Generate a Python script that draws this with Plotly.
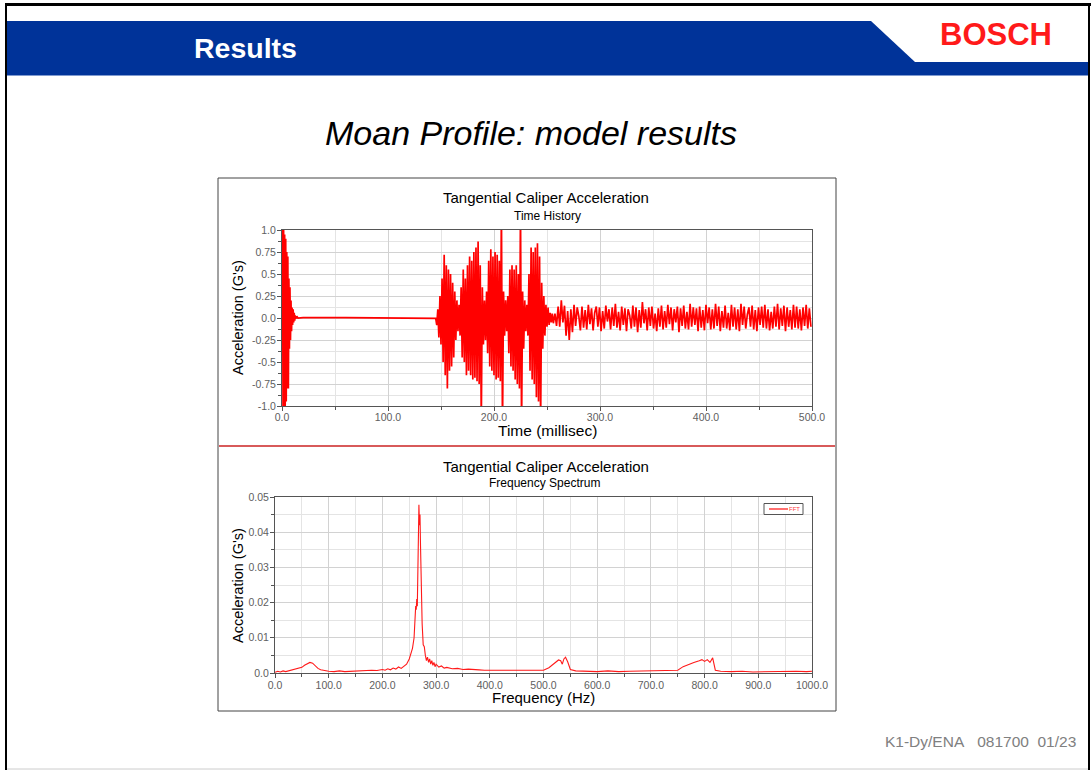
import numpy as np
import plotly.graph_objects as go

W, H = 1091, 770

# ---------------- data ----------------
# Time history, initial impact transient (0 .. 15 ms, 0.5 ms steps)
th_start_ms = 0.0
th_start_step = 0.5
th_start_vals = [0.0, 1.2, -1.2, 1.1, -1.1, 0.95, -1.0, 0.9, -0.95, 0.75, -0.8,
                 0.7, -0.8, 0.45, -0.35, 0.35, -0.25, 0.2, -0.15, 0.12, -0.08,
                 0.1, -0.05, 0.06, -0.03, 0.03, -0.01, 0.02, 0.0, 0.01, 0.0]
# quiet section
th_quiet_ms = [20, 30, 40, 50, 60, 80, 100, 120, 140, 145]
th_quiet_vals = [0.005, 0.005, 0.008, 0.005, 0.004, 0.003, 0.0, -0.003, -0.003, -0.005]
# moan bursts (146 .. 255 ms, 1 ms steps)
th_burst_ms = 146.0
th_burst_step = 1.0
th_burst_vals = [-0.08, 0.1, -0.22, 0.25, -0.3, 0.45, -0.5, 0.72, -0.65,
                 0.6, -0.8, 0.55, -0.6, 0.5, -0.55, 0.4, -0.45, 0.3, -0.25,
                 0.2, -0.15, 0.15, -0.2, 0.35, -0.45, 0.55, -0.5, 0.45, -0.65,
                 0.6, -0.6, 0.7, -0.65, 0.65, -0.7, 0.75, -0.68, 0.8, -0.72,
                 0.87, -0.75, 0.6, -1.2, 0.35, -0.3, 0.2, -0.25, 0.3, -0.4,
                 0.65, -0.55, 0.78, -0.6, 0.7, -0.65, 0.75, -0.7, 0.72, -0.68,
                 0.65, -0.72, 1.3, -1.3, 0.3, -0.2, 0.2, -0.15, 0.25, -0.4,
                 0.55, -0.55, 0.6, -0.6, 0.55, -0.7, 0.6, -0.75, 0.5, -0.8,
                 1.3, -1.3, 0.3, -0.35, 0.2, -0.15, 0.15, -0.2, 0.5, -0.6,
                 0.8, -0.7, 0.75, -0.75, 0.8, -0.9, 0.85, -0.95, 0.7, -1.2,
                 0.4, -0.35, 0.25, -0.2, 0.15, -0.1, 0.12, -0.08, 0.06, -0.05, 0.05]
# steady oscillation (256 .. 499 ms, 1.5 ms steps)
th_steady_ms = 256.0
th_steady_step = 1.5
th_steady_vals = [-0.06, 0.05, -0.09, 0.13, -0.1, 0.2, -0.05, 0.14, -0.2, 0.08,
                  -0.25, 0.1, -0.16, 0.15, -0.09, 0.12, 0.02, -0.14, 0.13, -0.11,
                  0.09, -0.13, 0.15, -0.07, 0.11, -0.14, 0.06, 0.13, -0.1, 0.12,
                  -0.15, 0.08, -0.12, 0.14, -0.04, 0.1, -0.13, 0.12, -0.09, 0.16,
                  -0.11, 0.07, -0.14, 0.13, -0.08, 0.11, -0.15, 0.1, 0.03, -0.12,
                  0.14, -0.1, 0.12, -0.16, 0.09, -0.11, 0.18, -0.06, 0.1, -0.14,
                  0.12, -0.09, 0.13, -0.12, 0.05, -0.15, 0.11, -0.1, 0.14, -0.13,
                  0.08, -0.11, 0.15, -0.07, 0.12, -0.14, 0.1, -0.05, 0.13, -0.16,
                  0.11, -0.09, 0.14, -0.12, 0.07, -0.13, 0.16, -0.1, 0.12, -0.08,
                  0.11, -0.15, 0.13, -0.11, 0.09, -0.14, 0.15, -0.06, 0.12, -0.13,
                  0.1, -0.12, 0.16, -0.09, 0.13, -0.15, 0.08, -0.11, 0.14, -0.12,
                  0.06, -0.14, 0.15, -0.1, 0.12, -0.13, 0.1, -0.15, 0.16, -0.08,
                  0.13, -0.12, 0.04, 0.12, -0.1, 0.14, -0.13, 0.09, -0.15, 0.12,
                  -0.08, 0.13, -0.11, 0.15, -0.12, 0.1, -0.14, 0.07, -0.12, 0.13,
                  -0.1, 0.16, -0.13, 0.11, -0.09, 0.14, -0.15, 0.12, -0.1, 0.09,
                  -0.13, 0.15, -0.11, 0.13, -0.12, 0.1, -0.14, 0.12, -0.09, 0.15,
                  -0.12, 0.11, -0.1]

# Frequency spectrum
fft_hz = [0, 5, 10, 15, 20, 25, 30, 35, 40, 45, 50, 55, 60, 65, 70, 75, 80, 85, 90, 95,
          100, 110, 120, 130, 140, 150, 160, 170, 180, 190, 200, 205, 210, 215, 220, 225,
          230, 235, 240, 245, 250, 253, 256, 259, 261, 262, 263, 264, 265, 266, 267, 268,
          269, 270, 271, 272, 273, 274, 276, 278, 280, 282, 284, 286, 288, 290, 292, 294,
          296, 298, 300, 305, 310, 315, 320, 330, 340, 350, 360, 370, 380, 390, 400, 420,
          440, 460, 480, 500, 510, 520, 528, 532, 535, 538, 541, 545, 550, 560, 580, 600,
          620, 640, 660, 680, 700, 720, 740, 750, 760, 770, 780, 790, 795, 800, 805, 810,
          815, 820, 830, 850, 870, 890, 910, 930, 950, 970, 990, 1000]
fft_g = [0.0002, 0.0005, 0.0003, 0.0006, 0.0004, 0.0006, 0.0008, 0.0009, 0.001, 0.0012,
         0.0016, 0.0022, 0.0027, 0.003, 0.0028, 0.0021, 0.0013, 0.0009, 0.0007, 0.0006,
         0.0005, 0.0004, 0.0006, 0.0004, 0.0005, 0.0006, 0.0005, 0.0007, 0.0008, 0.0007,
         0.001, 0.0008, 0.0012, 0.0009, 0.0014, 0.0011, 0.0017, 0.0013, 0.002, 0.0025,
         0.004, 0.0055, 0.007, 0.01, 0.015, 0.019, 0.018, 0.021, 0.019, 0.028, 0.038, 0.0478,
         0.042, 0.045, 0.036, 0.028, 0.02, 0.014, 0.008, 0.0075, 0.005, 0.0035, 0.0045, 0.003,
         0.004, 0.0025, 0.0035, 0.0022, 0.003, 0.0018, 0.0025, 0.0017, 0.002, 0.0014, 0.0016,
         0.0012, 0.0013, 0.001, 0.0011, 0.0009, 0.0009, 0.0008, 0.0008, 0.0007, 0.0006,
         0.0007, 0.0006, 0.0008, 0.0015, 0.0028, 0.0037, 0.0035, 0.0025, 0.004, 0.0045,
         0.0032, 0.001, 0.0006, 0.0005, 0.0004, 0.0006, 0.0004, 0.0005, 0.0006, 0.0005,
         0.0006, 0.0007, 0.0008, 0.0018, 0.0025, 0.003, 0.0035, 0.0038, 0.0033, 0.0038,
         0.003, 0.0043, 0.0008, 0.0005, 0.0004, 0.0005, 0.0003, 0.0004, 0.0005, 0.0004,
         0.0005, 0.0004, 0.0005]

time_ticks = [0, 100, 200, 300, 400, 500]
time_tick_text = ["0.0", "100.0", "200.0", "300.0", "400.0", "500.0"]
acc_ticks = [-1.0, -0.75, -0.5, -0.25, 0.0, 0.25, 0.5, 0.75, 1.0]
acc_tick_text = ["-1.0", "-0.75", "-0.5", "-0.25", "0.0", "0.25", "0.5", "0.75", "1.0"]
freq_ticks = [0, 100, 200, 300, 400, 500, 600, 700, 800, 900, 1000]
freq_tick_text = ["0.0", "100.0", "200.0", "300.0", "400.0", "500.0", "600.0",
                  "700.0", "800.0", "900.0", "1000.0"]
fft_ticks = [0.0, 0.01, 0.02, 0.03, 0.04, 0.05]
fft_tick_text = ["0.0", "0.01", "0.02", "0.03", "0.04", "0.05"]
legend_label = "FFT"

# ---------------- assemble time series ----------------
t_all = np.concatenate([
    th_start_ms + th_start_step * np.arange(len(th_start_vals)),
    np.array(th_quiet_ms, dtype=float),
    th_burst_ms + th_burst_step * np.arange(len(th_burst_vals)),
    th_steady_ms + th_steady_step * np.arange(len(th_steady_vals)),
])
y_all = np.concatenate([th_start_vals, th_quiet_vals, th_burst_vals, th_steady_vals])


def fx(x):
    return x / W


def fy(y):
    return 1 - y / H


FONT = "Liberation Sans, Arial, sans-serif"
TICKC = "#606060"
AXC = "#555555"
GRID = "#d2d2d2"
MGRID = "#e4e4e4"

fig = go.Figure()
fig.add_trace(go.Scatter(x=t_all, y=y_all, mode="lines", line=dict(color="#ff0000", width=1.7),
                         xaxis="x", yaxis="y", showlegend=False, hoverinfo="skip"))
fig.add_trace(go.Scatter(x=fft_hz, y=fft_g, mode="lines", line=dict(color="#ff1a1a", width=1.1),
                         name=legend_label, xaxis="x2", yaxis="y2", showlegend=False))


def axis(domain, rng, tv, tt, minor_dtick, anchor, standoff):
    return dict(domain=domain, range=rng, tickvals=tv, ticktext=tt, anchor=anchor,
                showline=True, linecolor=AXC, linewidth=1, mirror=True,
                ticks="outside", ticklen=4, tickcolor=AXC, tickwidth=1,
                ticklabelstandoff=standoff,
                showgrid=True, gridcolor=GRID, gridwidth=1, zeroline=False,
                tickfont=dict(family=FONT, size=10.5, color=TICKC),
                minor=dict(dtick=minor_dtick, showgrid=True, gridcolor=MGRID,
                           ticks="outside", ticklen=3, tickcolor=AXC),
                fixedrange=True)


layout = dict(
    autosize=True, margin=dict(l=0, r=0, t=0, b=0, autoexpand=False),
    paper_bgcolor="white", plot_bgcolor="white",
    font=dict(family=FONT, color="#000"),
    xaxis=axis([fx(282), fx(812)], [0, 500], time_ticks, time_tick_text, 50, "y", -3),
    yaxis=axis([fy(406), fy(230)], [-1, 1], acc_ticks, acc_tick_text, 0.125, "x", -1),
    xaxis2=axis([fx(275), fx(812)], [0, 1000], freq_ticks, freq_tick_text, 50, "y2", -2),
    yaxis2=axis([fy(673), fy(497)], [0, 0.05], fft_ticks, fft_tick_text, 0.005, "x2", -1),
    showlegend=False,
)
fig.update_layout(**layout)

shapes = []
# slide frame
shapes.append(dict(type="line", xref="paper", yref="paper", x0=fx(5), x1=fx(1091), y0=fy(4.5), y1=fy(4.5),
                   line=dict(color="black", width=3)))
shapes.append(dict(type="line", xref="paper", yref="paper", x0=fx(6), x1=fx(6), y0=fy(3), y1=fy(770),
                   line=dict(color="black", width=2)))
shapes.append(dict(type="line", xref="paper", yref="paper", x0=fx(1089), x1=fx(1089), y0=fy(3), y1=fy(770),
                   line=dict(color="black", width=2)))
shapes.append(dict(type="line", xref="paper", yref="paper", x0=fx(7), x1=fx(1088), y0=fy(769), y1=fy(769),
                   line=dict(color="#cccccc", width=1)))
# header band
shapes.append(dict(type="rect", xref="paper", yref="paper", x0=fx(7), x1=fx(1088), y0=fy(75), y1=fy(21),
                   fillcolor="#003399", line=dict(width=0), layer="below"))
shapes.append(dict(type="path", xref="paper", yref="paper",
                   path=f"M {fx(871)},{fy(21)} L {fx(1088)},{fy(21)} L {fx(1088)},{fy(62)} L {fx(915)},{fy(62)} Z",
                   fillcolor="white", line=dict(width=0), layer="below"))
shapes.append(dict(type="line", xref="paper", yref="paper", x0=fx(7), x1=fx(1088), y0=fy(75.5), y1=fy(75.5),
                   line=dict(color="#7f9ad0", width=1)))
# chart picture frame
shapes.append(dict(type="rect", xref="paper", yref="paper", x0=fx(218), x1=fx(836), y0=fy(711), y1=fy(178),
                   line=dict(color="#444444", width=1), fillcolor="rgba(0,0,0,0)", layer="below"))
shapes.append(dict(type="line", xref="paper", yref="paper", x0=fx(219), x1=fx(835), y0=fy(446), y1=fy(446),
                   line=dict(color="#d85a5a", width=2)))
# small legend box of the spectrum chart
shapes.append(dict(type="rect", xref="paper", yref="paper", x0=fx(764), x1=fx(803), y0=fy(514.5), y1=fy(503.5),
                   line=dict(color="#555555", width=1), fillcolor="white"))
shapes.append(dict(type="line", xref="paper", yref="paper", x0=fx(769), x1=fx(788), y0=fy(509), y1=fy(509),
                   line=dict(color="#ff4040", width=1.5)))
fig.update_layout(shapes=shapes)

NB = "\u00a0"
ann = []


def text(x, y, s, size, color="#000", **kw):
    d = dict(x=fx(x), y=fy(y), xref="paper", yref="paper", text=s, showarrow=False,
             font=dict(family=FONT, size=size, color=color), xanchor="center", yanchor="middle")
    d.update(kw)
    ann.append(d)


text(245, 48, "<b>Results</b>", 28.5, "white")
text(996, 34, "<b>BOSCH</b>", 31, "#ff1a1a")
text(531, 133, "<i>Moan Profile: model results</i>", 34)
text(546, 198, "Tangential Caliper Acceleration", 15)
text(547, 216, "Time History", 12)
text(238, 318, "Acceleration (G's)", 14.5, textangle=-90)
text(547, 430, "Time (millisec)", 15.5)
text(546, 466, "Tangential Caliper Acceleration", 15)
text(544, 483, "Frequency Spectrum", 12)
text(238, 586, "Acceleration (G's)", 14.5, textangle=-90)
text(543, 697, "Frequency (Hz)", 15)
text(787.5, 509, legend_label, 6, "#ff4040", xanchor="left", borderpad=0)
text(1078, 741, f"K1-Dy/ENA{NB*3}081700{NB*2}01/23", 15.5, "#808080", xanchor="right")
fig.update_layout(annotations=ann)

fig.write_html("out.html",
               default_width=f"{W}px; position:fixed; left:0; top:0",
               default_height=f"{H}px",
               post_script="document.body.style.margin='0';document.body.style.overflow='hidden';")
